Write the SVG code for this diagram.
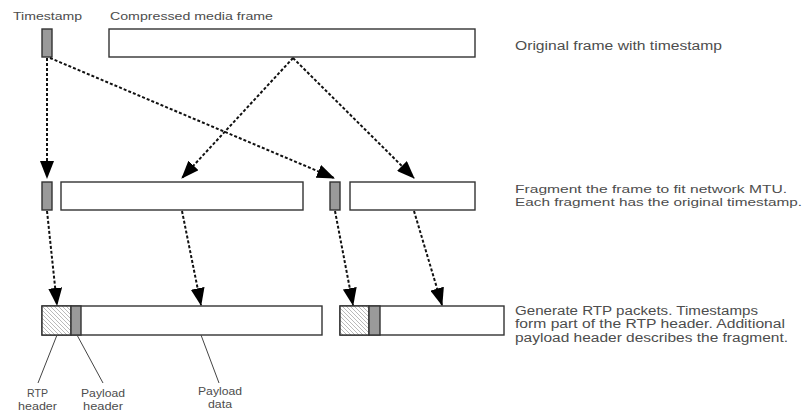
<svg xmlns="http://www.w3.org/2000/svg" width="804" height="414" viewBox="0 0 804 414">
  <style>
    .box { fill: #ffffff; stroke: #333333; stroke-width: 1.4; }
    .ts { fill: #9a9a9a; stroke: #333333; stroke-width: 1.4; }
    .rtp { fill: url(#hatch); stroke: #333333; stroke-width: 1.4; }
    .arrow { fill: none; stroke: #111111; stroke-width: 2; stroke-dasharray: 3 2; marker-end: url(#head); }
    .leader { fill: none; stroke: #444444; stroke-width: 1; }
    text { font-family: "Liberation Sans", Arial, sans-serif; fill: #4d4d4d; }
    .lbl { font-size: 11.5px; }
    .note { font-size: 12.5px; }
    .note.tight { font-size: 11.5px; }
    .small { font-size: 11px; }
  </style>
  <defs>
    <marker id="head" viewBox="0 0 18 14" refX="17" refY="7" markerWidth="18" markerHeight="14" markerUnits="userSpaceOnUse" orient="auto">
      <path d="M0,0 L18,7 L0,14 Z" fill="#000000"/>
    </marker>
    <pattern id="hatch" patternUnits="userSpaceOnUse" width="4" height="4">
      <rect width="4" height="4" fill="#ffffff"/>
      <path d="M0,0 L4,4 M-1,3 L1,5 M3,-1 L5,1" stroke="#a8a8a8" stroke-width="0.8"/>
    </pattern>
  </defs>

  <!-- top row: original frame -->
  <g id="timestamp">
    <text class="lbl" x="13" y="20" textLength="69" lengthAdjust="spacingAndGlyphs">Timestamp</text>
    <rect class="ts" x="42" y="29" width="10" height="28"/>
  </g>
  <g id="media-frame">
    <text class="lbl" x="110" y="20" textLength="163" lengthAdjust="spacingAndGlyphs">Compressed media frame</text>
    <rect class="box" x="109" y="29" width="366" height="28"/>
  </g>

  <!-- middle row: fragments -->
  <g id="fragment-1">
    <rect class="ts" x="42" y="182" width="10" height="28"/>
    <rect class="box" x="61" y="182" width="242" height="28"/>
  </g>
  <g id="fragment-2">
    <rect class="ts" x="330" y="182" width="10" height="28"/>
    <rect class="box" x="350" y="182" width="125" height="28"/>
  </g>

  <!-- bottom row: RTP packets -->
  <g id="packet-1">
    <rect class="box" x="42" y="306" width="280" height="29"/>
    <rect class="rtp" x="42" y="306" width="29" height="29"/>
    <rect class="ts" x="71" y="306" width="10" height="29"/>
  </g>
  <g id="packet-2">
    <rect class="box" x="340" y="306" width="164" height="29"/>
    <rect class="rtp" x="340" y="306" width="29" height="29"/>
    <rect class="ts" x="369" y="306" width="11" height="29"/>
  </g>

  <!-- part labels under the first packet -->
  <g id="label-rtp-header">
    <line class="leader" x1="57" y1="335" x2="38" y2="383"/>
    <text class="small" x="27" y="397" textLength="21" lengthAdjust="spacingAndGlyphs">RTP</text>
    <text class="small" x="18" y="410" textLength="39" lengthAdjust="spacingAndGlyphs">header</text>
  </g>
  <g id="label-payload-header">
    <line class="leader" x1="77" y1="335" x2="103" y2="383"/>
    <text class="small" x="81" y="397" textLength="44" lengthAdjust="spacingAndGlyphs">Payload</text>
    <text class="small" x="83" y="410" textLength="40" lengthAdjust="spacingAndGlyphs">header</text>
  </g>
  <g id="label-payload-data">
    <line class="leader" x1="201" y1="335" x2="219" y2="383"/>
    <text class="small" x="198" y="395" textLength="44" lengthAdjust="spacingAndGlyphs">Payload</text>
    <text class="small" x="208" y="408" textLength="24" lengthAdjust="spacingAndGlyphs">data</text>
  </g>

  <!-- step descriptions -->
  <g id="step-1">
    <text class="note" x="515" y="50" textLength="207" lengthAdjust="spacingAndGlyphs">Original frame with timestamp</text>
  </g>
  <g id="step-2">
    <text class="note tight" x="515" y="193" textLength="272" lengthAdjust="spacingAndGlyphs">Fragment the frame to fit network MTU.</text>
    <text class="note tight" x="515" y="206" textLength="287" lengthAdjust="spacingAndGlyphs">Each fragment has the original timestamp.</text>
  </g>
  <g id="step-3">
    <text class="note" x="515" y="314.5" textLength="243" lengthAdjust="spacingAndGlyphs">Generate RTP packets. Timestamps</text>
    <text class="note" x="515" y="328" textLength="270" lengthAdjust="spacingAndGlyphs">form part of the RTP header. Additional</text>
    <text class="note" x="515" y="341.5" textLength="273" lengthAdjust="spacingAndGlyphs">payload header describes the fragment.</text>
  </g>

  <!-- connectors -->
  <g id="connectors">
    <line class="arrow" x1="47" y1="58" x2="47" y2="178"/>
    <line class="arrow" x1="50" y1="58" x2="334" y2="178"/>
    <line class="arrow" x1="293" y1="58" x2="182" y2="178"/>
    <line class="arrow" x1="293" y1="58" x2="414" y2="178"/>
    <line class="arrow" x1="47" y1="211" x2="57" y2="305"/>
    <line class="arrow" x1="182" y1="211" x2="201" y2="305"/>
    <line class="arrow" x1="335" y1="211" x2="353" y2="305"/>
    <line class="arrow" x1="414" y1="211" x2="442" y2="305"/>
  </g>
</svg>
